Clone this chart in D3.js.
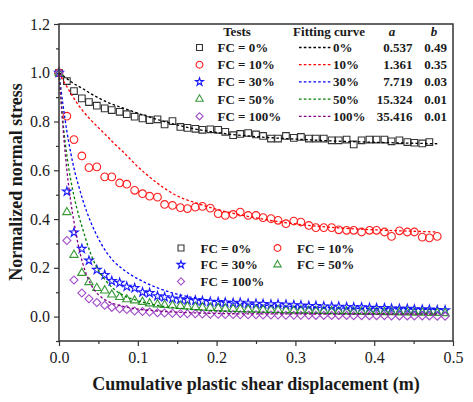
<!DOCTYPE html>
<html>
<head>
<meta charset="utf-8">
<script src="https://cdn.jsdelivr.net/npm/d3@7"></script>
<style>
  body { margin: 0; background: #fff; }
  svg text { font-family: "Liberation Serif", "Times New Roman", serif; fill: #1a1a1a; }
</style>
</head>
<body>
<div id="container"></div>
<script>
// measured x positions of the test readings (m)
const xs = [0, 0.010, 0.019, 0.029, 0.038, 0.048, 0.058, 0.067, 0.077, 0.086,
  0.096, 0.106, 0.115, 0.125, 0.134, 0.144, 0.154, 0.163, 0.173, 0.182,
  0.192, 0.202, 0.211, 0.221, 0.230, 0.240, 0.250, 0.259, 0.269, 0.278,
  0.288, 0.298, 0.307, 0.317, 0.326, 0.336, 0.346, 0.355, 0.365, 0.374,
  0.384, 0.394, 0.403, 0.413, 0.422, 0.432, 0.442, 0.451, 0.461, 0.470,
  0.480, 0.490];

const fc0 = [1.0, 0.966, 0.925, 0.895, 0.880, 0.865, 0.854, 0.847, 0.840, 0.830,
  0.820, 0.813, 0.806, 0.809, 0.788, 0.802, 0.778, 0.774, 0.770, 0.766,
  0.768, 0.766, 0.758, 0.744, 0.749, 0.753, 0.747, 0.741, 0.730, 0.730,
  0.741, 0.733, 0.737, 0.730, 0.730, 0.730, 0.723, 0.723, 0.726, 0.706,
  0.723, 0.726, 0.726, 0.726, 0.719, 0.723, 0.716, 0.713, 0.710, 0.716];
const fc10 = [1.0, 0.822, 0.726, 0.659, 0.611, 0.614, 0.573, 0.573, 0.548, 0.543,
  0.518, 0.504, 0.494, 0.490, 0.460, 0.456, 0.447, 0.443, 0.449, 0.452,
  0.445, 0.422, 0.415, 0.419, 0.429, 0.415, 0.415, 0.406, 0.402, 0.395,
  0.381, 0.392, 0.388, 0.374, 0.365, 0.365, 0.365, 0.356, 0.354, 0.354,
  0.347, 0.354, 0.354, 0.347, 0.329, 0.352, 0.347, 0.347, 0.326, 0.323,
  0.329];
const fc30 = [1.0, 0.513, 0.345, 0.278, 0.230, 0.192, 0.171, 0.146, 0.139, 0.123,
  0.117, 0.100, 0.097, 0.084, 0.080, 0.074, 0.071, 0.068, 0.066, 0.064,
  0.061, 0.060, 0.058, 0.056, 0.057, 0.054, 0.053, 0.052, 0.050, 0.051,
  0.049, 0.047, 0.046, 0.044, 0.044, 0.042, 0.041, 0.041, 0.039, 0.038,
  0.038, 0.036, 0.035, 0.035, 0.033, 0.032, 0.032, 0.030, 0.029, 0.029,
  0.027, 0.026];
const fc50 = [1.0, 0.428, 0.253, 0.179, 0.141, 0.117, 0.107, 0.090, 0.080, 0.071,
  0.066, 0.060, 0.054, 0.050, 0.047, 0.045, 0.043, 0.041, 0.039, 0.037,
  0.036, 0.035, 0.033, 0.032, 0.031, 0.030, 0.029, 0.028, 0.028, 0.027,
  0.026, 0.025, 0.025, 0.024, 0.023, 0.023, 0.022, 0.021, 0.021, 0.020,
  0.020, 0.019, 0.019, 0.018, 0.018, 0.017, 0.017, 0.016, 0.016, 0.015,
  0.015, 0.014];
const fc100 = [1.0, 0.312, 0.150, 0.097, 0.073, 0.058, 0.047, 0.038, 0.032, 0.029,
  0.023, 0.021, 0.019, 0.016, 0.015, 0.014, 0.013, 0.012, 0.012, 0.011,
  0.010, 0.010, 0.009, 0.009, 0.008, 0.008, 0.008, 0.007, 0.007, 0.007,
  0.006, 0.006, 0.006, 0.006, 0.005, 0.005, 0.005, 0.005, 0.005, 0.004,
  0.004, 0.004, 0.004, 0.004, 0.003, 0.003, 0.003, 0.003, 0.003, 0.003,
  0.002, 0.002];

const fitX = [0, 0.005, 0.01, 0.015, 0.02, 0.025, 0.03, 0.04, 0.05, 0.06, 0.07, 0.08,
  0.1, 0.125, 0.15, 0.175, 0.2, 0.25, 0.3, 0.35, 0.4, 0.45, 0.48];
const fit0 = [1.0, 0.988, 0.976, 0.964, 0.953, 0.944, 0.935, 0.915, 0.897, 0.881, 0.868, 0.857,
  0.834, 0.808, 0.786, 0.768, 0.755, 0.738, 0.728, 0.720, 0.715, 0.711, 0.709];
const fit10 = [1.0, 0.970, 0.943, 0.915, 0.890, 0.866, 0.845, 0.808, 0.775, 0.743, 0.710, 0.680,
  0.615, 0.547, 0.495, 0.465, 0.440, 0.405, 0.380, 0.365, 0.356, 0.350, 0.347];
const fit30 = [1.0, 0.870, 0.760, 0.670, 0.595, 0.535, 0.480, 0.390, 0.320, 0.265, 0.225, 0.197,
  0.155, 0.118, 0.092, 0.075, 0.063, 0.049, 0.041, 0.036, 0.033, 0.031, 0.030];
const fit50 = [1.0, 0.800, 0.660, 0.560, 0.480, 0.415, 0.360, 0.260, 0.190, 0.145, 0.112, 0.090,
  0.065, 0.046, 0.035, 0.028, 0.023, 0.018, 0.015, 0.013, 0.012, 0.011, 0.011];
const fit100 = [1.0, 0.780, 0.600, 0.470, 0.370, 0.285, 0.220, 0.135, 0.090, 0.066, 0.052, 0.043,
  0.031, 0.023, 0.018, 0.015, 0.013, 0.011, 0.011, 0.010, 0.010, 0.010, 0.010];

const testLabels = ['FC = 0%', 'FC = 10%', 'FC = 30%', 'FC = 50%', 'FC = 100%'];
const fitLabels = ['0%', '10%', '30%', '50%', '100%'];
const paramA = ['0.537', '1.361', '7.719', '15.324', '35.416'];
const paramB = ['0.49', '0.35', '0.03', '0.01', '0.01'];
const yTicks = [0, 0.2, 0.4, 0.6, 0.8, 1.0, 1.2];
const yMinor = [-0.1, 0.1, 0.3, 0.5, 0.7, 0.9, 1.1];
const xTicks = [0, 0.1, 0.2, 0.3, 0.4, 0.5];
const xMinor = [0.05, 0.15, 0.25, 0.35, 0.45];

const W = 473, H = 402;
const margin = { top: 24, right: 20, bottom: 61, left: 59 };
const width = W - margin.left - margin.right;
const height = H - margin.top - margin.bottom;

const styles = [
  { marker: '#333333', line: '#000000', shape: 'square' },
  { marker: '#ff2020', line: '#ff0000', shape: 'circle' },
  { marker: '#1a1aff', line: '#0000ff', shape: 'star' },
  { marker: '#3a9a3a', line: '#008000', shape: 'triangle' },
  { marker: '#a04cc8', line: '#800080', shape: 'diamond' }
];
const tests = [fc0, fc10, fc30, fc50, fc100];
const fits = [fit0, fit10, fit30, fit50, fit100];

const svg = d3.select('#container')
  .append('svg')
  .attr('width', W)
  .attr('height', H);

const g = svg.append('g')
  .attr('transform', `translate(${margin.left},${margin.top})`);

const xScale = d3.scaleLinear().domain([0, 0.5]).range([0, width]);
const yScale = d3.scaleLinear().domain([-0.1, 1.2]).range([height, 0]);

function symbolPath(shape, small) {
  const k = small ? 0.8 : 1;
  if (shape === 'square') return d3.symbol().type(d3.symbolSquare).size(44 * k)();
  if (shape === 'circle') return d3.symbol().type(d3.symbolCircle).size(46 * k)();
  if (shape === 'star') return d3.symbol().type(d3.symbolStar).size(24 * k)();
  if (shape === 'triangle') return d3.symbol().type(d3.symbolTriangle).size(30 * k)();
  return d3.symbol().type(d3.symbolSquare).size(32 * k)();
}

function drawMarker(sel, st, x, y, small) {
  sel.append('path')
    .attr('d', symbolPath(st.shape, small))
    .attr('transform', `translate(${x},${y})` + (st.shape === 'diamond' ? ' rotate(45)' : ''))
    .attr('fill', 'none')
    .attr('stroke', st.marker)
    .attr('stroke-width', 1.1);
}

// axes
g.append('g')
  .attr('class', 'y-axis')
  .call(d3.axisLeft(yScale).tickValues(yTicks).tickSize(5).tickPadding(4).tickFormat(d3.format('.1f')))
  .call(a => a.select('.domain').remove())
  .call(a => a.selectAll('text').style('font-size', '16px').attr('fill', '#1a1a1a'));
g.append('g')
  .call(d3.axisLeft(yScale).tickValues(yMinor).tickSize(3).tickFormat(''))
  .call(a => a.select('.domain').remove());
g.append('g')
  .attr('class', 'x-axis')
  .attr('transform', `translate(0,${height})`)
  .call(d3.axisBottom(xScale).tickValues(xTicks).tickSize(5).tickPadding(6).tickFormat(d3.format('.1f')))
  .call(a => a.select('.domain').remove())
  .call(a => a.selectAll('text').style('font-size', '16px').attr('fill', '#1a1a1a'));
g.append('g')
  .attr('transform', `translate(0,${height})`)
  .call(d3.axisBottom(xScale).tickValues(xMinor).tickSize(3).tickFormat(''))
  .call(a => a.select('.domain').remove());
g.selectAll('.tick line').attr('stroke', '#333').attr('stroke-width', 1.2);

// test points
tests.forEach((vals, k) => {
  const st = styles[k];
  const grp = g.append('g');
  vals.forEach((v, i) => drawMarker(grp, st, xScale(xs[i]), yScale(v), false));
});

// fitting curves
const line = d3.line()
  .x((d, i) => xScale(fitX[i]))
  .y(d => yScale(d))
  .curve(d3.curveMonotoneX);
fits.forEach((vals, k) => {
  g.append('path')
    .datum(vals)
    .attr('fill', 'none')
    .attr('stroke', styles[k].line)
    .attr('stroke-width', 1.3)
    .attr('stroke-dasharray', '2.6,2.2')
    .attr('d', line);
});

// frame
g.append('rect')
  .attr('width', width)
  .attr('height', height)
  .attr('fill', 'none')
  .attr('stroke', '#333')
  .attr('stroke-width', 1.5);

// axis titles
svg.append('text')
  .attr('x', 256)
  .attr('y', 390)
  .attr('text-anchor', 'middle')
  .style('font-size', '18px')
  .style('font-weight', 'bold')
  .text('Cumulative plastic shear displacement (m)');
svg.append('text')
  .attr('transform', 'translate(22,182) rotate(-90)')
  .attr('text-anchor', 'middle')
  .style('font-size', '18px')
  .style('font-weight', 'bold')
  .text('Normalized normal stress');

// top legend table
const leg = svg.append('g').style('font-size', '13px').style('font-weight', 'bold');
leg.append('text').attr('x', 237).attr('y', 36).attr('text-anchor', 'middle').text('Tests');
leg.append('text').attr('x', 329).attr('y', 36).attr('text-anchor', 'middle').text('Fitting curve');
leg.append('text').attr('x', 392).attr('y', 36).attr('text-anchor', 'middle').style('font-style', 'italic').text('a');
leg.append('text').attr('x', 434).attr('y', 36).attr('text-anchor', 'middle').style('font-style', 'italic').text('b');
testLabels.forEach((lab, k) => {
  const yb = 52 + k * 17.2;
  drawMarker(leg, styles[k], 199.5, yb - 4.5, true);
  leg.append('text').attr('x', 217.5).attr('y', yb).text(lab);
  leg.append('line')
    .attr('x1', 299).attr('x2', 331)
    .attr('y1', yb - 4.5).attr('y2', yb - 4.5)
    .attr('stroke', styles[k].line)
    .attr('stroke-width', 1.3)
    .attr('stroke-dasharray', '2.6,2.2');
  leg.append('text').attr('x', 333).attr('y', yb).text(fitLabels[k]);
  leg.append('text').attr('x', 412.5).attr('y', yb).attr('text-anchor', 'end').text(paramA[k]);
  leg.append('text').attr('x', 447).attr('y', yb).attr('text-anchor', 'end').text(paramB[k]);
});

// lower legend
const leg2 = svg.append('g').style('font-size', '13px').style('font-weight', 'bold');
testLabels.forEach((lab, k) => {
  const col = k % 2, row = Math.floor(k / 2);
  const yb = 252.5 + row * 16.7;
  const xm = col === 0 ? 181 : 277.5;
  drawMarker(leg2, styles[k], xm, yb - 4.5, true);
  leg2.append('text').attr('x', xm + 19.5).attr('y', yb).text(lab);
});
</script>
</body>
</html>
